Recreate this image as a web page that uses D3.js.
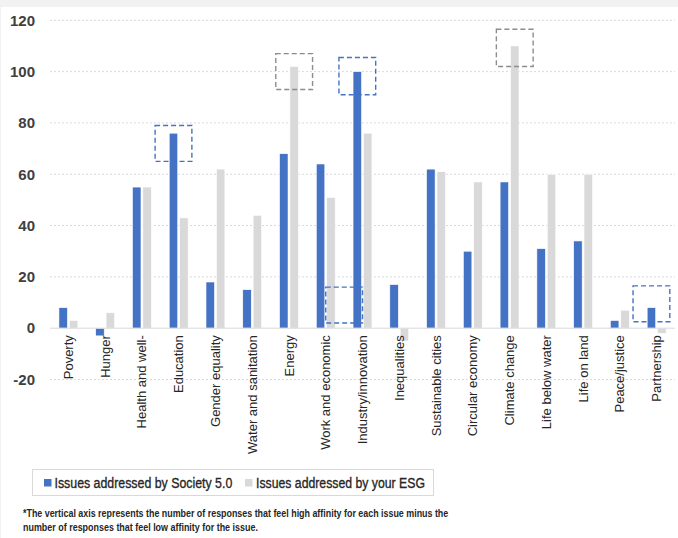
<!DOCTYPE html>
<html><head><meta charset="utf-8">
<script src="https://cdn.jsdelivr.net/npm/d3@7"></script>
<style>
html,body{margin:0;padding:0;background:#f2f2f2;}
svg{display:block;}
</style></head>
<body>
<svg id="chart" width="678" height="538"></svg>
<script>
const categories = ["Poverty","Hunger","Health and well-","Education","Gender equality","Water and sanitation","Energy","Work and economic","Industry/innovation","Inequalities","Sustainable cities","Circular economy","Climate change","Life below water","Life on land","Peace/justice","Partnership"];
const society50 = [8,-3,55,76,18,15,68,64,100,17,62,30,57,31,34,3,8];
const esg = [3,6,55,43,62,44,102,51,76,-5,61,57,110,60,60,7,-2];
const seriesNames = ["Issues addressed by Society 5.0","Issues addressed by your ESG"];
const yTicks = [-20,0,20,40,60,80,100,120];
// highlight boxes: category, series (or "after" = boundary with next category), value range
const highlights = [
  {cat:"Education", series:0, lo:65, hi:79},
  {cat:"Energy", series:1, lo:93, hi:107},
  {cat:"Industry/innovation", series:0, lo:91, hi:105.5},
  {cat:"Climate change", series:1, lo:102, hi:116.5},
  {cat:"Work and economic", series:"after", lo:2, hi:16},
  {cat:"Partnership", series:0, lo:2.5, hi:16.5}
];
const footnote = ["*The vertical axis represents the number of responses that feel high affinity for each issue minus the",
                  "number of responses that feel low affinity for the issue."];

const colors = ["#4472C4","#D9D9D9"];
const svg = d3.select("#chart");
svg.append("rect").attr("x",1).attr("y",7).attr("width",677).attr("height",531).attr("fill","#ffffff");

const left = 50, right = 675;
const y = d3.scaleLinear().domain([-20,120]).range([379.5,20.3]);
const x0 = d3.scaleBand().domain(categories).range([left,right]).padding(0);
const x1 = d3.scaleBand().domain([0,1]).range([0,18.9]).paddingInner(0.18).paddingOuter(0);
const catCenter = c => x0(c) + x0.bandwidth()/2;
const barX = (c,s) => catCenter(c) - 9.45 + x1(s);

// gridlines
const grid = svg.append("g");
grid.selectAll("line").data(yTicks.filter(t=>t!==0)).join("line")
  .attr("x1",left).attr("x2",right)
  .attr("y1",d=>y(d)).attr("y2",d=>y(d))
  .attr("stroke","#d9d9d9").attr("stroke-width",1).attr("stroke-dasharray","2,2");

// y axis labels via d3 axis
const yAxis = d3.axisLeft(y).tickValues(yTicks).tickSize(0).tickPadding(0).tickFormat(d=>String(d));
const yg = svg.append("g").attr("transform","translate(35,0)").call(yAxis);
yg.select(".domain").remove();
yg.selectAll("text").attr("font-family","Liberation Sans, Arial, sans-serif")
  .attr("font-size","15px").attr("font-weight","bold").attr("fill","#404040");

// bars
const data = [];
categories.forEach((c,i)=>{ data.push({c,s:0,v:society50[i]}); data.push({c,s:1,v:esg[i]}); });
svg.append("g").selectAll("rect").data(data).join("rect")
  .attr("x",d=>barX(d.c,d.s)).attr("width",x1.bandwidth())
  .attr("y",d=>y(Math.max(0,d.v))).attr("height",d=>Math.abs(y(d.v)-y(0)))
  .attr("fill",d=>colors[d.s]).attr("stroke","#ffffff").attr("stroke-width",0.6);

// zero line
svg.append("line").attr("x1",left).attr("x2",right).attr("y1",y(0)).attr("y2",y(0))
  .attr("stroke","#d9d9d9").attr("stroke-width",1);

// x labels
const xg = svg.append("g");
xg.selectAll("text").data(categories).join("text")
  .attr("transform",d=>`translate(${catCenter(d)},${y(0)+7}) rotate(-90)`)
  .attr("text-anchor","end").attr("dy","0.35em")
  .attr("font-family","Liberation Sans, Arial, sans-serif").attr("font-size","13px").attr("fill","#262626")
  .text(d=>d);

// highlight boxes
const boxW = x0.bandwidth();
svg.append("g").selectAll("rect").data(highlights).join("rect")
  .attr("x",d=>{
    let cx;
    if(d.series==="after") cx = x0(d.cat) + x0.bandwidth();
    else cx = barX(d.cat,d.series) + x1.bandwidth()/2;
    return cx - boxW/2;
  })
  .attr("width",boxW)
  .attr("y",d=>y(d.hi)).attr("height",d=>y(d.lo)-y(d.hi))
  .attr("fill","none")
  .attr("stroke",d=>d.series===1?"#8c8c8c":"#4472C4")
  .attr("stroke-width",1.4).attr("stroke-dasharray","5,3");

// helper: horizontally condensed text fitted to a width
function fitText(g, str, x, yy, target, attrs){
  const t = g.append("text").attr("x",0).attr("y",0).text(str);
  Object.entries(attrs).forEach(([k,v])=>t.attr(k,v));
  const w = t.node().getComputedTextLength();
  t.attr("transform",`translate(${x},${yy}) scale(${target/w},1)`);
  return t;
}

// legend
const lg = svg.append("g");
lg.append("rect").attr("x",32.5).attr("y",469.5).attr("width",401).attr("height",26)
  .attr("fill","#ffffff").attr("stroke","#d9d9d9").attr("stroke-width",1);
const legX = [[44,54.5,178],[245,256,169]];
seriesNames.forEach((n,i)=>{
  lg.append("rect").attr("x",legX[i][0]).attr("y",479).attr("width",7.5).attr("height",7.5).attr("fill",colors[i]);
  fitText(lg, n, legX[i][1], 488, legX[i][2], {
    "font-family":"Liberation Sans Narrow, Arial Narrow, Liberation Sans, sans-serif",
    "font-size":"15.5px","fill":"#262626","stroke":"#262626","stroke-width":0.35});
});

// footnote
const fnLen = [426, 235];
const fg = svg.append("g");
footnote.forEach((s,i)=>{
  fitText(fg, s, 23, 516.5+i*14.5, fnLen[i], {
    "font-family":"Liberation Sans Narrow, Arial Narrow, Liberation Sans, sans-serif",
    "font-size":"11.5px","font-weight":"bold","fill":"#262626"});
});
</script>
</body></html>
